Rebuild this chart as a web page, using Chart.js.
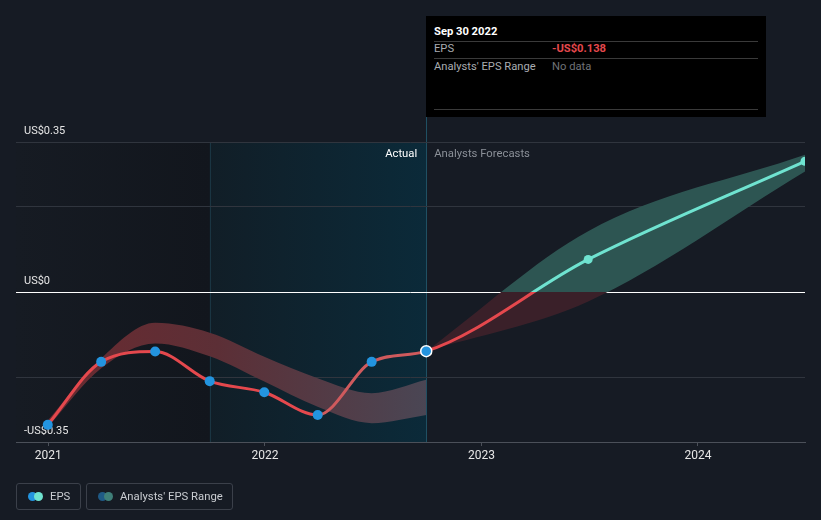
<!DOCTYPE html>
<html>
<head>
<meta charset="utf-8">
<script src="https://cdn.jsdelivr.net/npm/chart.js@4.4.1/dist/chart.umd.min.js"></script>
<style>
  html, body { margin: 0; padding: 0; background: #161b24; }
  #wrap { position: relative; width: 821px; height: 520px; font-family: Roboto, "Noto Sans", sans-serif; }
  #wrap canvas { position: absolute; left: 0; top: 0; }
  .tip { position: absolute; left: 426px; top: 16px; width: 340px; height: 101px; background: #000; }
  .tip div { position: absolute; font-size: 11.2px; line-height: 14px; white-space: nowrap; }
  .tip .sep { left: 8px; right: 8px; height: 1px; background: #3a3a3a; }
  .legend { position: absolute; top: 483px; height: 27px; box-sizing: border-box; border: 1px solid #3b404a; border-radius: 3px; color: #c9ccd1; font-size: 11.3px; line-height: 25px; }
  .legend span.dot { position: absolute; top: 8px; width: 9px; height: 9px; border-radius: 50%; }
  .legend span.txt { position: absolute; top: 0; white-space: nowrap; }
</style>
</head>
<body>
<div id="wrap">
  <canvas id="myChart" width="821" height="520"></canvas>

  <div class="tip">
    <div style="left:8px;top:9px;color:#fff;font-weight:bold;">Sep 30 2022</div>
    <div class="sep" style="top:25px;"></div>
    <div style="left:8px;top:26px;color:#a9acb1;">EPS</div>
    <div style="left:126px;top:26px;color:#e5484d;font-weight:bold;">-US$0.138</div>
    <div class="sep" style="top:42px;"></div>
    <div style="left:8px;top:44px;color:#a9acb1;">Analysts' EPS Range</div>
    <div style="left:126px;top:44px;color:#6f7277;">No data</div>
    <div class="sep" style="top:93px;"></div>
  </div>

  <div class="legend" style="left:16px;width:65px;">
    <span class="dot" style="left:11px;background:#2394df;"></span>
    <span class="dot" style="left:17px;background:#6fe3d0;"></span>
    <span class="txt" style="left:33px;">EPS</span>
  </div>
  <div class="legend" style="left:86px;width:147px;">
    <span class="dot" style="left:11px;background:#1f5a86;"></span>
    <span class="dot" style="left:17px;background:#3f7f79;"></span>
    <span class="txt" style="left:33px;">Analysts' EPS Range</span>
  </div>
</div>

<script>
// data
const epsDates = ['2020-12-31', '2021-03-31', '2021-06-30', '2021-09-30', '2021-12-31',
                  '2022-03-31', '2022-06-30', '2022-09-30', '2023-06-30', '2024-06-30'];
const epsValues = [-0.310, -0.163, -0.139, -0.208, -0.234, -0.287, -0.163, -0.138, 0.076, 0.305];

const pastRangeDates = ['2020-12-31', '2021-03-31', '2021-06-30', '2021-09-30',
                        '2021-12-31', '2022-03-31', '2022-06-30', '2022-09-30'];
const pastRangeHigh = [-0.300, -0.155, -0.072, -0.095, -0.151, -0.201, -0.236, -0.205];
const pastRangeLow  = [-0.315, -0.178, -0.120, -0.150, -0.209, -0.268, -0.306, -0.287];

const forecastDates = ['2022-09-30', '2023-06-30', '2024-06-30'];
const forecastHigh = [-0.138, 0.142, 0.320];
const forecastLow  = [-0.138, -0.022, 0.281];

const xTickYears = [2021, 2022, 2023, 2024];
const yGridValues = [-0.35, -0.2, 0, 0.2, 0.35];
const yTickLabels = { '0.35': 'US$0.35', '0': 'US$0', '-0.35': '-US$0.35' };

const actualStart = '2021-09-30';
const actualEnd = '2022-09-30';

const RED = '#e5484d';
const TEAL = '#6fe3d0';
const BLUE = '#2394df';

function toYear(s) {
  const d = new Date(s + 'T00:00:00Z');
  const y = d.getUTCFullYear();
  const a = Date.UTC(y, 0, 1), b = Date.UTC(y + 1, 0, 1);
  return y + (d.getTime() - a) / (b - a);
}
const pts = (dates, vals) => dates.map((d, i) => ({ x: toYear(d), y: vals[i] }));

const X_MAX = toYear('2024-06-30');
const X_MIN = X_MAX - 3.644;

// colour split at zero: top colour above, bottom colour below
function splitAtZero(chart, top, bottom) {
  const a = chart.chartArea;
  if (!a) return bottom;
  const y0 = chart.scales.y.getPixelForValue(0);
  const s = Math.min(1, Math.max(0, (y0 - a.top) / (a.bottom - a.top)));
  const g = chart.ctx.createLinearGradient(0, a.top, 0, a.bottom);
  g.addColorStop(0, top);
  g.addColorStop(s, top);
  g.addColorStop(s, bottom);
  g.addColorStop(1, bottom);
  return g;
}

const ptRadius = epsValues.map((v, i) => i === 7 ? 5.5 : (i > 7 ? 4.5 : 5));
const ptFill = epsValues.map((v, i) => i > 7 ? TEAL : BLUE);
const ptBorder = epsValues.map((v, i) => i === 7 ? '#ffffff' : (i > 7 ? TEAL : BLUE));
const ptBorderW = epsValues.map((v, i) => i === 7 ? 1.5 : 0);

const backdrop = {
  id: 'backdrop',
  beforeDraw(chart) {
    const { ctx, chartArea: a, scales } = chart;
    const xs = scales.x.getPixelForValue(toYear(actualStart));
    const xe = scales.x.getPixelForValue(toYear(actualEnd));
    ctx.save();
    let g = ctx.createLinearGradient(a.left, 0, xs, 0);
    g.addColorStop(0, '#161b23');
    g.addColorStop(1, '#12161d');
    ctx.fillStyle = g;
    ctx.fillRect(a.left, a.top, xs - a.left, a.bottom - a.top);
    g = ctx.createLinearGradient(xs, 0, xe, 0);
    g.addColorStop(0, '#111e27');
    g.addColorStop(1, '#0b2a39');
    ctx.fillStyle = g;
    ctx.fillRect(xs, a.top, xe - xs, a.bottom - a.top);
    ctx.fillStyle = '#1a3542';
    ctx.fillRect(Math.round(xs), a.top, 1, a.bottom - a.top);
    ctx.fillStyle = '#1f5063';
    ctx.fillRect(Math.round(xe), 117, 1, a.bottom - 117);

    ctx.font = '11.3px Roboto, sans-serif';
    ctx.textBaseline = 'middle';
    ctx.textAlign = 'right';
    ctx.fillStyle = '#ffffff';
    ctx.fillText('Actual', xe - 9, a.top + 12);
    ctx.textAlign = 'left';
    ctx.fillStyle = '#8b9098';
    ctx.fillText('Analysts Forecasts', xe + 8, a.top + 12);
    ctx.restore();
  }
};

const canvas = document.getElementById('myChart').getContext('2d');
const chart = new Chart(canvas, {
  type: 'line',
  data: {
    datasets: [
      {
        label: 'EPS',
        data: pts(epsDates, epsValues),
        borderColor: c => splitAtZero(c.chart, TEAL, RED),
        segment: {
          borderColor: c => (c.p0DataIndex === 5 || c.p0DataIndex === 6) ? '#cf5a5d' : undefined
        },
        borderWidth: 3,
        cubicInterpolationMode: 'monotone',
        pointRadius: ptRadius,
        pointBackgroundColor: ptFill,
        pointBorderColor: ptBorder,
        pointBorderWidth: ptBorderW,
        fill: false,
        clip: 0
      },
      {
        label: 'pastLow',
        data: pts(pastRangeDates, pastRangeLow),
        borderWidth: 0,
        borderColor: 'transparent',
        pointRadius: 0,
        cubicInterpolationMode: 'monotone',
        fill: false
      },
      {
        label: 'pastHigh',
        data: pts(pastRangeDates, pastRangeHigh),
        borderWidth: 0,
        borderColor: 'transparent',
        pointRadius: 0,
        cubicInterpolationMode: 'monotone',
        fill: '-1',
        backgroundColor: c => {
          const ch = c.chart;
          if (!ch.chartArea) return '#5a2a30';
          const x0 = ch.scales.x.getPixelForValue(toYear(pastRangeDates[0]));
          const x1 = ch.scales.x.getPixelForValue(toYear(pastRangeDates[pastRangeDates.length - 1]));
          const g = ch.ctx.createLinearGradient(x0, 0, x1, 0);
          g.addColorStop(0, '#6a2a30');
          g.addColorStop(0.45, '#5c2f36');
          g.addColorStop(1, '#4a4654');
          return g;
        }
      },
      {
        label: 'forecastLow',
        data: pts(forecastDates, forecastLow),
        borderWidth: 0,
        borderColor: 'transparent',
        pointRadius: 0,
        cubicInterpolationMode: 'monotone',
        fill: false
      },
      {
        label: 'forecastHigh',
        data: pts(forecastDates, forecastHigh),
        borderWidth: 0,
        borderColor: 'transparent',
        pointRadius: 0,
        cubicInterpolationMode: 'monotone',
        fill: '-1',
        backgroundColor: c => splitAtZero(c.chart, '#2d5552', '#3a2029')
      }
    ]
  },
  options: {
    responsive: false,
    animation: false,
    events: [],
    layout: { padding: { left: 16, right: 16, top: 142, bottom: 58 } },
    plugins: { legend: { display: false }, tooltip: { enabled: false } },
    scales: {
      x: {
        type: 'linear',
        min: X_MIN,
        max: X_MAX,
        afterBuildTicks: s => { s.ticks = xTickYears.map(v => ({ value: v })); },
        afterFit: s => { s.height = 20; },
        grid: { drawOnChartArea: false, drawTicks: true, tickLength: 4, color: '#4b5059' },
        border: { display: true, color: '#4b5059' },
        ticks: {
          color: '#e6e6e6',
          font: { family: 'Roboto', size: 12 },
          padding: 3,
          maxRotation: 0,
          callback: v => String(v)
        }
      },
      y: {
        min: -0.35,
        max: 0.35,
        afterBuildTicks: s => { s.ticks = yGridValues.map(v => ({ value: v })); },
        afterFit: s => { s.width = 0; },
        border: { display: false },
        grid: {
          drawTicks: false,
          color: c => (c.tick && c.tick.value === 0) ? '#ffffff' : '#30353e'
        },
        ticks: {
          mirror: true,
          padding: 8,
          labelOffset: -11,
          color: '#e6e6e6',
          font: { family: 'Roboto', size: 11 },
          callback: v => yTickLabels[String(v)] || ''
        }
      }
    }
  },
  plugins: [backdrop]
});
</script>
</body>
</html>
